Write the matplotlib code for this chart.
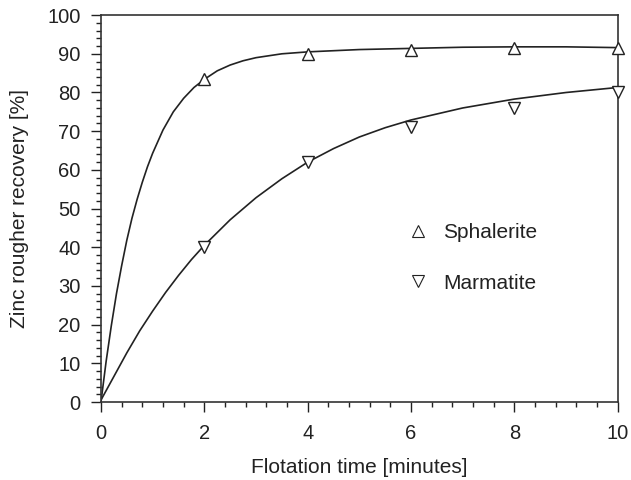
import matplotlib
matplotlib.use('Agg')
import matplotlib.pyplot as plt
from matplotlib.ticker import MultipleLocator

plt.rcParams['font.family'] = ['Liberation Sans', 'DejaVu Sans']

# measured points
t_pts = [2, 4, 6, 8, 10]
sphalerite = [83.5, 90.0, 91.0, 91.5, 91.5]
marmatite = [40.0, 62.0, 71.0, 76.0, 80.0]

# fitted curves
t_sph_fit = [0, 0.1, 0.2, 0.3, 0.4, 0.5, 0.6, 0.7, 0.8, 0.9, 1.0, 1.2, 1.4, 1.6, 1.8, 2.0,
             2.25, 2.5, 2.75, 3.0, 3.5, 4.0, 4.5, 5.0, 6.0, 7.0, 8.0, 9.0, 10.0]
sph_fit = [0, 10.5, 19.7, 28.0, 35.2, 41.8, 47.5, 52.4, 56.8, 60.8, 64.3, 70.3, 75.0, 78.5, 81.3, 83.4,
           85.6, 87.1, 88.2, 89.0, 90.0, 90.5, 90.8, 91.1, 91.4, 91.7, 91.8, 91.8, 91.6]

t_mar_fit = [0, 0.25, 0.5, 0.75, 1.0, 1.25, 1.5, 1.75, 2.0, 2.5, 3.0, 3.5, 4.0, 4.5, 5.0,
             5.5, 6.0, 7.0, 8.0, 9.0, 10.0]
mar_fit = [0.5, 6.6, 12.7, 18.4, 23.5, 28.3, 32.7, 36.8, 40.5, 47.1, 52.8, 57.7, 62.0, 65.5, 68.5,
           70.9, 72.9, 76.0, 78.3, 80.0, 81.3]

fig = plt.figure(figsize=(6.31, 4.8), dpi=100)
ax = fig.add_axes([0.160, 0.1625, 0.819, 0.806])

ink = '#222222'
ax.plot(t_sph_fit, sph_fit, color=ink, lw=1.2)
ax.plot(t_mar_fit, mar_fit, color=ink, lw=1.2)
ax.plot(t_pts, sphalerite, ls='none', marker='^', ms=9, mfc='white', mec=ink, mew=1.0,
        clip_on=False, zorder=3)
ax.plot(t_pts, marmatite, ls='none', marker='v', ms=9, mfc='white', mec=ink, mew=1.0,
        clip_on=False, zorder=3)

# legend handles
h1, = ax.plot([], [], ls='none', marker='^', ms=8, mfc='white', mec=ink, mew=0.8)
h2, = ax.plot([], [], ls='none', marker='v', ms=8, mfc='white', mec=ink, mew=0.8)
ax.legend([h1, h2], ['Sphalerite', 'Marmatite'], frameon=False, fontsize=15,
          labelspacing=1.5, handlelength=1.0, handletextpad=0.7,
          loc='center left', bbox_to_anchor=(0.557, 0.372), labelcolor=ink)

ax.set_xlim(0, 10)
ax.set_ylim(0, 100)
ax.xaxis.set_major_locator(MultipleLocator(2))
ax.xaxis.set_minor_locator(MultipleLocator(0.4))
ax.yaxis.set_major_locator(MultipleLocator(10))
ax.yaxis.set_minor_locator(MultipleLocator(2))
ax.tick_params(which='major', direction='out', length=7, width=1.0, labelsize=14.5,
               colors=ink)
ax.tick_params(which='minor', direction='out', length=3.6, width=1.0, colors=ink)
ax.tick_params(axis='x', which='major', pad=9)
ax.tick_params(axis='y', which='major', pad=7.8)
for s in ax.spines.values():
    s.set_linewidth(1.2)
    s.set_color('#333333')

ax.set_xlabel('Flotation time [minutes]', fontsize=15, color=ink, labelpad=10.5)
ax.set_ylabel('Zinc rougher recovery [%]', fontsize=15, color=ink, labelpad=13)

fig.savefig('out.png', dpi=100)
